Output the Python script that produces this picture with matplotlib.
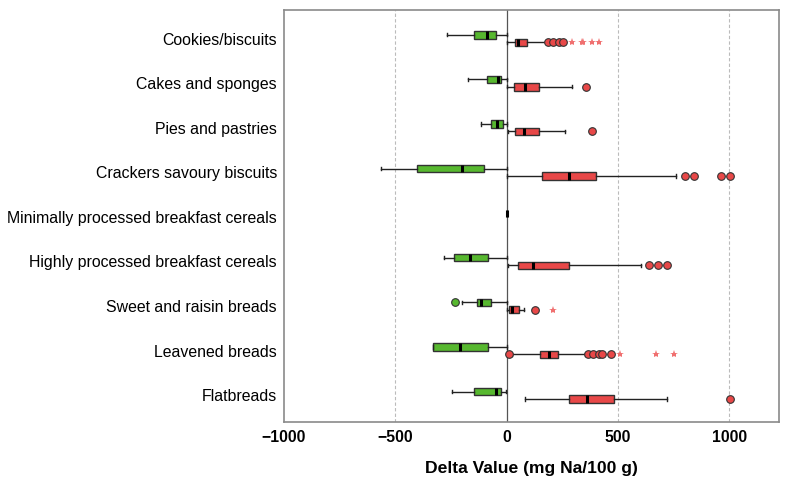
import numpy as np
import matplotlib
matplotlib.use("Agg")
import matplotlib.pyplot as plt

# categories, top to bottom
categories = ["Cookies/biscuits", "Cakes and sponges", "Pies and pastries",
              "Crackers savoury biscuits", "Minimally processed breakfast cereals",
              "Highly processed breakfast cereals", "Sweet and raisin breads",
              "Leavened breads", "Flatbreads"]

# negative delta (green) box stats: whisker low, q1, median, q3, whisker high
neg_wlo = [-269, -174, -114, -565, 0, -282, -201, -333, -245]
neg_q1  = [-147, -89, -71, -402, 0, -239, -132, -329, -147]
neg_med = [-89, -39, -42, -203, 0, -164, -114, -212, -50]
neg_q3  = [-50, -24, -15, -102, 0, -82, -72, -82, -28]
neg_whi = [0, 0, 0, 0, 0, 0, 0, 0, -4]
neg_out = [[], [], [], [], [], [], [-234], [], []]

# positive delta (red) box stats; None = no box
pos_wlo = [0, 0, 6, 0, None, 4, 3, 24, 81]
pos_q1  = [36, 33, 39, 159, None, 50, 9, 149, 279]
pos_med = [50, 81, 77, 278, None, 119, 24, 189, 359]
pos_q3  = [93, 146, 143, 400, None, 279, 53, 231, 481]
pos_whi = [179, 294, 260, 761, None, 602, 78, 351, 719]
pos_out = [[183, 206, 236, 254], [354], [383], [800, 839, 963, 1001], [],
           [640, 680, 721], [129], [10, 366, 389, 412, 427, 469], [1001]]
# extreme values (stars)
pos_ext = [[293, 336, 344, 381, 414], [], [], [], [], [], [209], [509, 670, 752], []]

green = "#57b82f"
red = "#e84848"

fig = plt.figure(figsize=(7.9, 4.91), dpi=100)
ax = fig.add_axes([0.3595, 0.1405, 0.6265, 0.8391])

def make_stats(wlo, q1, med, q3, whi, out):
    stats = []
    pos = []
    for i in range(len(categories)):
        if med[i] is None:
            continue
        stats.append(dict(whislo=wlo[i], q1=q1[i], med=med[i], q3=q3[i],
                          whishi=whi[i], fliers=out[i]))
        pos.append(i)
    return stats, pos

off = 0.083
bw = 0.165

for (stats, pos), col, sgn in [
        (make_stats(neg_wlo, neg_q1, neg_med, neg_q3, neg_whi, neg_out), green, -1),
        (make_stats(pos_wlo, pos_q1, pos_med, pos_q3, pos_whi, pos_out), red, 1)]:
    ax.bxp(stats, positions=[p + sgn * off for p in pos], vert=False,
           widths=bw, capwidths=0.07, patch_artist=True, manage_ticks=False,
           boxprops=dict(facecolor=col, edgecolor="#333333", linewidth=1.0),
           medianprops=dict(color="black", linewidth=2.2),
           whiskerprops=dict(color="#222222", linewidth=1.0),
           capprops=dict(color="#222222", linewidth=1.0),
           flierprops=dict(marker="o", markerfacecolor=col, markeredgecolor="#333333",
                           markersize=5.5, markeredgewidth=0.8))

# extreme values as stars
for i, vals in enumerate(pos_ext):
    if vals:
        ax.plot(vals, [i + off] * len(vals), linestyle="none", marker="*",
                color="#f07070", markersize=6, markeredgewidth=0)

ax.axvline(0, color="#555555", linewidth=0.9, zorder=0.5)
for xv in [-500, 500, 1000]:
    ax.axvline(xv, color="#bbbbbb", linewidth=0.8, linestyle=(0, (3, 2)), zorder=0.5)

ax.set_xlim(-1000, 1222)
ax.set_ylim(8.6, -0.64)
ax.set_yticks(range(len(categories)))
ax.set_yticklabels(categories, fontsize=11.4, family="Liberation Sans")
ax.set_xticks([-1000, -500, 0, 500, 1000])
ax.set_xticklabels(["\u22121000", "\u2212500", "0", "500", "1000"],
                   fontsize=11.3, family="Liberation Sans", fontweight="bold")
ax.tick_params(axis="y", length=0, pad=5)
ax.tick_params(axis="x", length=0, pad=6)
ax.set_xlabel("Delta Value (mg Na/100 g)", fontsize=12.6, fontweight="bold",
              family="Liberation Sans", labelpad=11)

for s in ax.spines.values():
    s.set_color("#8a8a8a")
    s.set_linewidth(1.2)

fig.savefig("out.png", dpi=100)
